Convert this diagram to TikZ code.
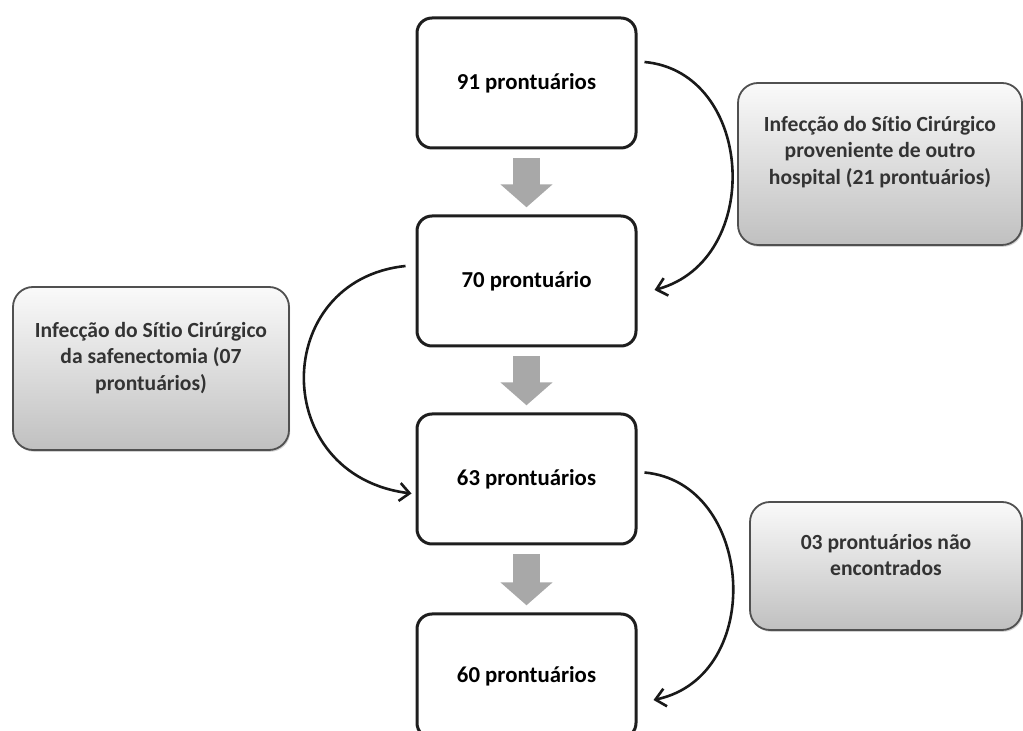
\documentclass[tikz,border=0pt]{standalone}
\usepackage{fontspec}
\setmainfont{Carlito}[Ligatures=NoCommon]
\usetikzlibrary{arrows.meta,positioning,shadows}
\definecolor{boxline}{HTML}{1E1E1E}
\definecolor{sideline}{HTML}{505050}
\definecolor{sidetop}{HTML}{FAFAFA}
\definecolor{sidebot}{HTML}{C0C0C0}
\definecolor{blkgray}{HTML}{A8A8A8}
\definecolor{sidetext}{HTML}{333333}

\begin{document}
\begin{tikzpicture}[x=0.5pt,y=-0.5pt,node distance=32.5pt,
 b/.style={draw=boxline,line width=1.5pt,rounded corners=7.5pt,fill=white,
 minimum width=109.5pt,minimum height=65pt,
 font=\fontsize{11.4}{13}\selectfont\bfseries},
 s/.style={draw=sideline,line width=0.9pt,rounded corners=10pt,
 top color=sidetop,bottom color=sidebot,
 drop shadow={shadow xshift=0.6pt,shadow yshift=-0.9pt,fill=black!35}},
 t/.style={align=center,text=sidetext,
 font=\fontsize{10.8}{13.25}\selectfont\bfseries},
 blk/.style={draw=blkgray,line width=13.5pt,
 -{Triangle[length=11.5pt,width=25.5pt]},shorten <=4.2pt,shorten >=3.6pt},
 c/.style={draw=black!90,line width=1.3pt,
 -{Straight Barb[length=5pt,width=9pt]}}]
\useasboundingbox (0,0) rectangle (1023,731);
% main column
\node[b] (total) at (526.5,83) {91 prontuários};
\node[b,below=of total] (semfora) {70 prontuário};
\node[b,below=of semfora] (semsafena) {63 prontuários};
\node[b,below=33.5pt of semsafena,minimum height=62pt] (final) {60 prontuários};
\draw[blk] (total) -- (semfora);
\draw[blk] (semfora) -- (semsafena);
\draw[blk] (semsafena) -- (final);
% excluded records
\node[s,minimum width=142pt,minimum height=81pt] (outro) at (880,164) {};
\node[t] (outrotxt) at ([yshift=6pt]outro.center)
  {Infecção do Sítio Cirúrgico\\proveniente de outro\\hospital (21 prontuários)};
\node[s,minimum width=138pt,minimum height=81.5pt] (safena) at (151,368.5) {};
\node[t] (safenatxt) at ([yshift=5.25pt]safena.center)
  {Infecção do Sítio Cirúrgico\\da safenectomia (07\\prontuários)};
\node[s,minimum width=136pt,minimum height=64pt] (naoach) at (886,566) {};
\node[t] (naoachtxt) at ([yshift=5.5pt]naoach.center)
  {03 prontuários não\\encontrados};
\draw[c] ([shift={(7,-21)}]total.east) .. controls +(110,10) and +(110,-30)
  .. ([shift={(17,9)}]semfora.east);
\draw[c] ([shift={(-10,-15)}]semfora.west) .. controls +(-135,14) and +(-143,-18)
  .. ([shift={(-4,14.5)}]semsafena.west);
\draw[c] ([shift={(7,-6.5)}]semsafena.east) .. controls +(110,10) and +(113,-24)
  .. ([shift={(16,24)}]final.east);
\end{tikzpicture}
\end{document}
